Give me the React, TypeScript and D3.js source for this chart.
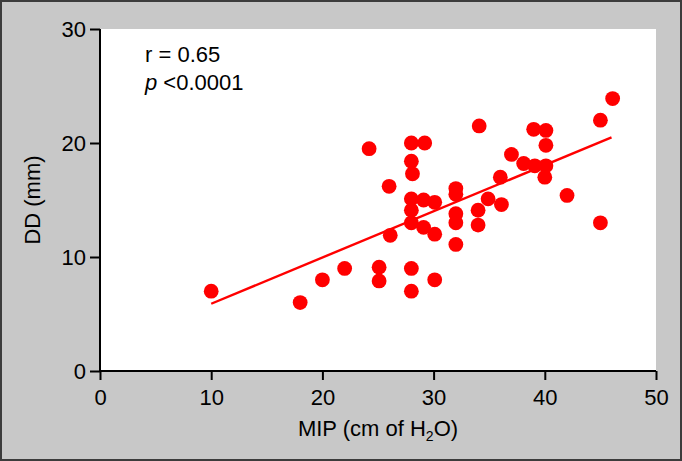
import React, { useEffect, useRef } from "react";
import * as d3 from "d3";

// MIP (cm of H2O) per subject
const mipValues = [
    10, 18, 20, 22, 24.2, 25.1, 25.1, 26, 26.1, 28, 28, 28.1, 28, 28, 28, 28,
    28, 29.2, 29.1, 29.1, 30.1, 30.1, 30.1, 32, 32, 32, 32, 32, 34.1, 34, 34,
    34.9, 36, 36.1, 37, 38.1, 39, 39.1, 40.1, 40.1, 40.1, 40, 42, 45, 45, 46.1,
];
// DD (mm) per subject
const ddValues = [
    7, 6, 8, 9, 19.5, 9.1, 7.9, 16.2, 11.9, 20, 18.4, 17.3, 15.1, 14.1, 13, 9,
    7, 20, 15, 12.6, 14.8, 12, 8, 16, 15.5, 13.8, 13, 11.1, 21.5, 14.1, 12.8,
    15.1, 17, 14.6, 19, 18.2, 21.2, 18, 21.1, 19.8, 18, 17, 15.4, 22, 13, 23.9,
];
// regression line end points [MIP, DD]
const fitStart = [10, 5.9];
const fitEnd = [46, 20.5];

const xTicks = [0, 10, 20, 30, 40, 50];
const yTicks = [0, 10, 20, 30];

function ScatterChart() {
    const d3Container = useRef(null);

    useEffect(() => {
        if (!d3Container.current) return;
        const width = 682;
        const height = 461;
        const marginTop = 29;
        const marginRight = 26;
        const marginBottom = 90;
        const marginLeft = 100;
        const font = "'Liberation Sans', Arial, sans-serif";
        const fontSize = 22;

        const svg = d3.select(d3Container.current);
        svg.selectAll("*").remove();

        // gray panel with dark border
        svg.append("rect")
            .attr("x", 1)
            .attr("y", 1)
            .attr("width", width - 2)
            .attr("height", height - 2)
            .attr("fill", "#c8c8c8")
            .attr("stroke", "#3c3c3c")
            .attr("stroke-width", 2);

        const x = d3
            .scaleLinear()
            .domain([0, 50])
            .range([marginLeft, width - marginRight]);
        const y = d3
            .scaleLinear()
            .domain([0, 30])
            .range([height - marginBottom, marginTop]);

        // white plot area
        svg.append("rect")
            .attr("x", x(0))
            .attr("y", y(30))
            .attr("width", x(50) - x(0))
            .attr("height", y(0) - y(30))
            .attr("fill", "#ffffff");

        // points
        svg.append("g")
            .attr("fill", "#ff0000")
            .selectAll("circle")
            .data(mipValues.map((m, i) => [m, ddValues[i]]))
            .join("circle")
            .attr("cx", (d) => x(d[0]))
            .attr("cy", (d) => y(d[1]))
            .attr("r", 7.4);

        // linear fit
        svg.append("line")
            .attr("x1", x(fitStart[0]))
            .attr("y1", y(fitStart[1]))
            .attr("x2", x(fitEnd[0]))
            .attr("y2", y(fitEnd[1]))
            .attr("stroke", "#ff0000")
            .attr("stroke-width", 2.4);

        // axes
        const xAxis = svg
            .append("g")
            .attr("transform", `translate(0,${y(0)})`)
            .call(d3.axisBottom(x).tickValues(xTicks).tickSize(9).tickPadding(9));
        const yAxis = svg
            .append("g")
            .attr("transform", `translate(${x(0)},0)`)
            .call(d3.axisLeft(y).tickValues(yTicks).tickSize(10).tickPadding(4));

        xAxis.select(".domain").attr("d", `M${x(0)},0H${x(50)}`);
        yAxis.select(".domain").attr("d", `M0,${y(0)}V${y(30)}`);
        [xAxis, yAxis].forEach((g) => {
            g.select(".domain").attr("stroke", "#000").attr("stroke-width", 2);
            g.selectAll(".tick line").attr("stroke", "#000").attr("stroke-width", 2);
            g.selectAll(".tick text")
                .attr("fill", "#000")
                .attr("font-family", font)
                .attr("font-size", fontSize);
        });

        // axis titles
        const xTitle = svg
            .append("text")
            .attr("x", (x(0) + x(50)) / 2)
            .attr("y", 436)
            .attr("text-anchor", "middle")
            .attr("font-family", font)
            .attr("font-size", fontSize);
        xTitle.append("tspan").text("MIP (cm of H");
        xTitle.append("tspan").attr("font-size", 14).attr("dy", 5).text("2");
        xTitle.append("tspan").attr("dy", -5).text("O)");

        svg.append("text")
            .attr("transform", `translate(40,${(y(0) + y(30)) / 2}) rotate(-90)`)
            .attr("text-anchor", "middle")
            .attr("font-family", font)
            .attr("font-size", fontSize)
            .text("DD (mm)");

        // statistics
        svg.append("text")
            .attr("x", 145)
            .attr("y", 62)
            .attr("font-family", font)
            .attr("font-size", fontSize)
            .text("r = 0.65");
        const pText = svg
            .append("text")
            .attr("x", 145)
            .attr("y", 90)
            .attr("font-family", font)
            .attr("font-size", fontSize);
        pText.append("tspan").attr("font-style", "italic").text("p");
        pText.append("tspan").text(" <0.0001");
    }, []);

    return (
        <svg
            ref={d3Container}
            width={682}
            height={461}
            style={{ position: "absolute", left: 0, top: 0, display: "block" }}
        />
    );
}

export default function App() {
    return <ScatterChart />;
}
